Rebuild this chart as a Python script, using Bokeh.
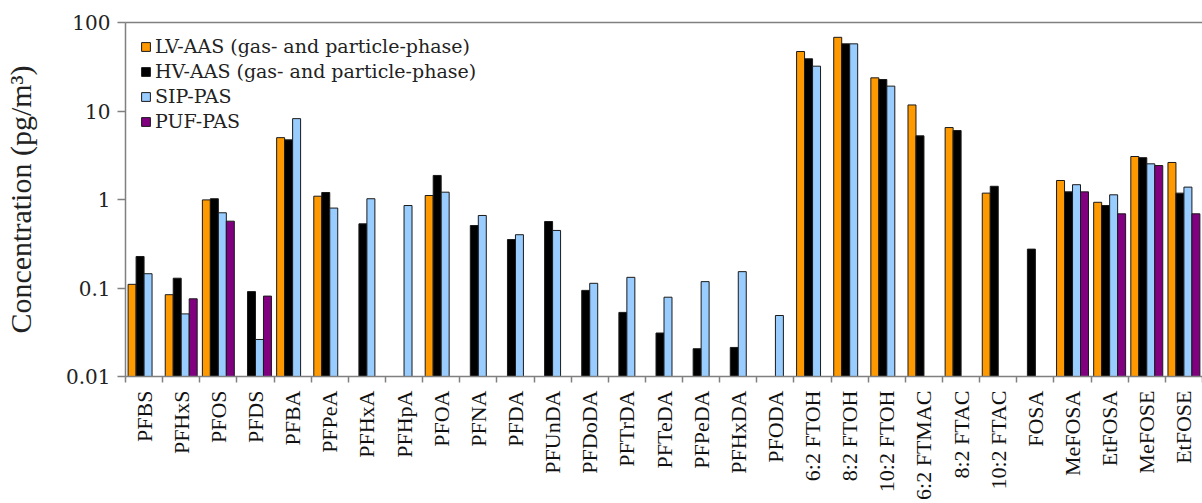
from bokeh.plotting import figure
from bokeh.models import Range1d, FixedTicker, LinearAxis
from bokeh.embed import file_html
from bokeh.resources import INLINE

categories = ["PFBS", "PFHxS", "PFOS", "PFDS", "PFBA", "PFPeA", "PFHxA", "PFHpA",
              "PFOA", "PFNA", "PFDA", "PFUnDA", "PFDoDA", "PFTrDA", "PFTeDA",
              "PFPeDA", "PFHxDA", "PFODA", "6:2 FTOH", "8:2 FTOH", "10:2 FTOH",
              "6:2 FTMAC", "8:2 FTAC", "10:2 FTAC", "FOSA", "MeFOSA", "EtFOSA",
              "MeFOSE", "EtFOSE"]

lv_aas = [0.11, 0.084, 0.99, None, 5.0, 1.09, None, None, 1.11, None, None, None,
          None, None, None, None, None, None, 47, 68, 23.7, 11.7, 6.5, 1.18, None,
          1.64, 0.93, 3.06, 2.62]
hv_aas = [0.227, 0.129, 1.02, 0.091, 4.72, 1.2, 0.531, None, 1.87, 0.508, 0.353,
          0.564, 0.094, 0.053, 0.031, 0.0206, 0.0213, None, 38.9, 57.4, 22.7, 5.24,
          6.02, 1.41, 0.275, 1.22, 0.855, 2.97, 1.18]
sip_pas = [0.145, 0.051, 0.708, 0.0262, 8.2, 0.80, 1.02, 0.855, 1.21, 0.66, 0.40,
           0.447, 0.113, 0.132, 0.0787, 0.118, 0.153, 0.0489, 32.1, 57.4, 19.1,
           None, None, None, None, 1.47, 1.13, 2.53, 1.38]
puf_pas = [None, 0.0755, 0.569, 0.081, None, None, None, None, None, None, None,
           None, None, None, None, None, None, None, None, None, None, None, None,
           None, None, 1.22, 0.689, 2.42, 0.689]

series_names = ["LV-AAS (gas- and particle-phase)", "HV-AAS (gas- and particle-phase)",
                "SIP-PAS", "PUF-PAS"]
series_values = [lv_aas, hv_aas, sip_pas, puf_pas]
series_colors = ["#FF9900", "#000000", "#99CCFF", "#800080"]

y_ticks = [0.01, 0.1, 1, 10, 100]
y_tick_labels = ["0.01", "0.1", "1", "10", "100"]

p = figure(width=1202, height=503, y_axis_type="log",
           x_range=Range1d(-0.5, len(categories) - 0.5),
           y_range=Range1d(0.01, 100),
           output_backend="svg", toolbar_location=None,
           min_border_left=123, min_border_right=0,
           min_border_top=22, min_border_bottom=127)

p.outline_line_color = None
p.xgrid.visible = False
p.ygrid.visible = False

bw = 0.215
for k, (name, vals, color) in enumerate(zip(series_names, series_values, series_colors)):
    xs = [i + (k - 1.5) * bw for i, v in enumerate(vals) if v is not None]
    ys = [v for v in vals if v is not None]
    p.vbar(x=xs, top=ys, bottom=0.01, width=bw, fill_color=color,
           line_color="#1a1a1a", line_width=1, legend_label=name)

# x axis
xa = p.xaxis[0]
xa.ticker = FixedTicker(ticks=list(range(len(categories))),
                        minor_ticks=[i - 0.5 for i in range(len(categories) + 1)])
xa.major_label_overrides = {i: c for i, c in enumerate(categories)}
xa.major_label_orientation = 3.14159265 / 2
xa.major_tick_line_color = None
xa.major_tick_out = 0
xa.major_tick_in = 0
xa.minor_tick_out = 6
xa.minor_tick_in = 0
xa.minor_tick_line_color = "#808080"
xa.minor_tick_line_width = 1.5
xa.axis_line_color = "#808080"
xa.axis_line_width = 1.5
xa.major_label_standoff = 8
xa.major_label_text_font = "Liberation Serif"
xa.major_label_text_font_size = "22px"
xa.major_label_text_color = "#111111"

# y axis
ya = p.yaxis[0]
ya.ticker = FixedTicker(ticks=y_ticks, minor_ticks=[])
ya.major_label_overrides = {t: l for t, l in zip(y_ticks, y_tick_labels)}
ya.major_tick_out = 8
ya.major_tick_in = 0
ya.minor_tick_line_color = None
ya.major_tick_line_color = "#808080"
ya.major_tick_line_width = 1.5
ya.axis_line_color = "#808080"
ya.axis_line_width = 1.5
ya.major_label_standoff = 7
ya.major_label_text_font = "DejaVu Serif"
ya.major_label_text_font_size = "20px"
ya.major_label_text_color = "#222222"
ya.axis_label = "Concentration (pg/m³)"
ya.axis_label_text_font = "Liberation Serif"
ya.axis_label_text_font_size = "30px"
ya.axis_label_text_font_style = "normal"
ya.axis_label_text_color = "#222222"
ya.axis_label_standoff = 26

# top border line
top = LinearAxis(ticker=FixedTicker(ticks=[]), major_label_text_font_size="0px",
                 major_tick_line_color=None, minor_tick_line_color=None,
                 axis_line_color="#808080", axis_line_width=1.5)
p.add_layout(top, "above")

lg = p.legend[0]
lg.location = (15, 244)
lg.margin = 0
lg.padding = 0
lg.border_line_color = None
lg.background_fill_alpha = 0
lg.glyph_width = 11
lg.glyph_height = 11
lg.label_height = 20
lg.spacing = 3
lg.label_standoff = 4
lg.label_text_font = "DejaVu Serif"
lg.label_text_font_size = "19px"
lg.label_text_color = "#222222"

open("out.html", "w").write(file_html(p, INLINE))
